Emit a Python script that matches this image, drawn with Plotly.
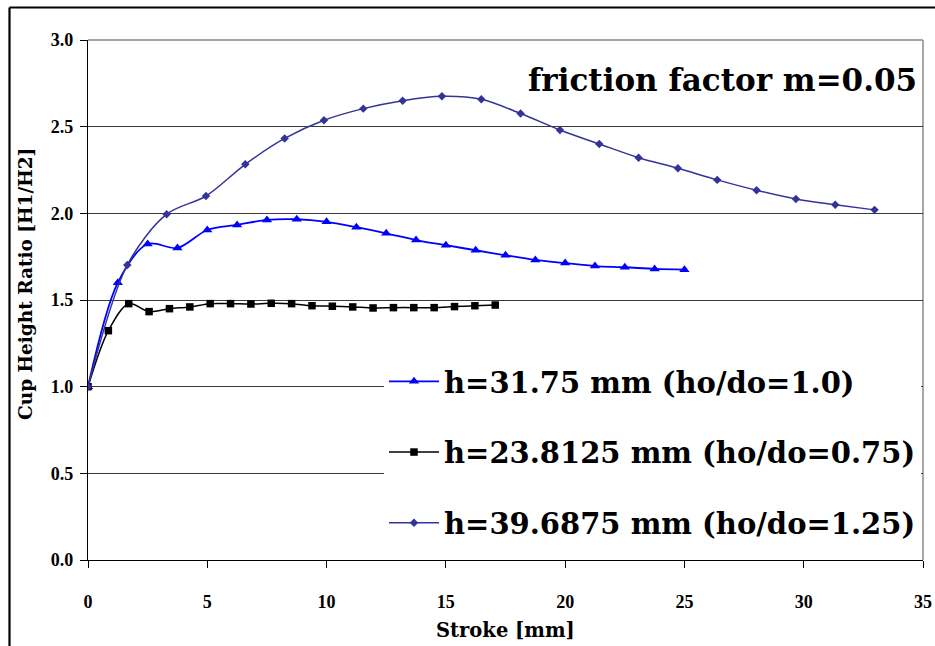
import plotly.graph_objects as go

# Stroke positions [mm] and cup height ratio H1/H2 for each initial height
stroke_h1 = [0.0, 1.25, 2.5, 3.75, 5.0, 6.25, 7.5, 8.75, 10.0, 11.25, 12.5,
             13.75, 15.0, 16.25, 17.5, 18.75, 20.0, 21.25, 22.5, 23.75, 25.0]
ratio_h1 = [1.00, 1.60, 1.823, 1.80, 1.904, 1.933, 1.962, 1.966, 1.951, 1.92, 1.885,
            1.846, 1.816, 1.787, 1.758, 1.731, 1.713, 1.696, 1.689, 1.679, 1.675]

stroke_h2 = [0.0, 0.854, 1.707, 2.561, 3.414, 4.268, 5.121, 5.975, 6.828, 7.682, 8.535,
             9.389, 10.242, 11.096, 11.949, 12.803, 13.656, 14.510, 15.363, 16.217, 17.07]
ratio_h2 = [1.00, 1.323, 1.479, 1.433, 1.45, 1.46, 1.479, 1.479, 1.477, 1.481, 1.479,
            1.467, 1.464, 1.46, 1.454, 1.456, 1.456, 1.456, 1.462, 1.467, 1.471]

stroke_h3 = [0.0, 1.648, 3.297, 4.945, 6.594, 8.242, 9.891, 11.539, 13.188, 14.836, 16.485,
             18.133, 19.782, 21.430, 23.079, 24.727, 26.376, 28.024, 29.673, 31.321, 32.97]
ratio_h3 = [1.00, 1.702, 1.995, 2.10, 2.283, 2.432, 2.537, 2.604, 2.65, 2.675, 2.658,
            2.576, 2.481, 2.40, 2.321, 2.26, 2.193, 2.133, 2.083, 2.05, 2.02]

names = ["h=31.75 mm (ho/do=1.0)", "h=23.8125 mm (ho/do=0.75)", "h=39.6875 mm (ho/do=1.25)"]

W, H = 935, 646
L, R, T, B = 88, 923, 40, 560  # plot area in pixels


def px(x):
    return (x - L) / (R - L)


def py(y):
    return (B - y) / (B - T)


serif = "DejaVu Serif"
times = "Liberation Serif"

fig = go.Figure()
fig.add_trace(go.Scatter(
    x=stroke_h1, y=ratio_h1, name=names[0], legendgroup="a",
    mode="lines+markers", line=dict(color="#0000FF", width=1.8, shape="spline", smoothing=0.9),
    marker=dict(symbol="triangle-up", size=9, color="#0000FF")))
fig.add_trace(go.Scatter(
    x=stroke_h2, y=ratio_h2, name=names[1], legendgroup="b",
    mode="lines+markers", line=dict(color="#000000", width=1.5, shape="spline", smoothing=0.9),
    marker=dict(symbol="square", size=7.5, color="#000000")))
fig.add_trace(go.Scatter(
    x=stroke_h3, y=ratio_h3, name=names[2], legendgroup="c",
    mode="lines+markers", line=dict(color="#333399", width=1.5, shape="spline", smoothing=0.9),
    marker=dict(symbol="diamond", size=6.5, color="#333399")))

axis_common = dict(
    showline=True, linecolor="#000000", linewidth=1.2, ticks="outside", ticklen=7,
    tickcolor="#000000", tickwidth=1, zeroline=False, automargin=False,
    tickfont=dict(family=times, size=18, color="#000000", weight="bold"),
)

fig.update_xaxes(range=[0, 35], dtick=5, tick0=0, showgrid=False,
                 ticklabelstandoff=18, **axis_common)
fig.update_yaxes(range=[0, 3], dtick=0.5, tick0=0, tickformat=".1f", showgrid=True,
                 gridcolor="#3a3a3a", gridwidth=1, ticklabelstandoff=3, **axis_common)

fig.update_layout(
    width=W, height=H,
    margin=dict(l=L, r=W - R, t=T, b=H - B, pad=0, autoexpand=False),
    paper_bgcolor="white", plot_bgcolor="white",
    showlegend=True,
    legend=dict(
        x=px(384), y=py(356), xanchor="left", yanchor="top",
        bgcolor="white", borderwidth=0, tracegroupgap=30, itemwidth=50,
        font=dict(family=serif, size=29, color="#000000", weight="bold"),
    ),
    annotations=[
        dict(text="friction factor m=0.05", x=px(919), y=py(80), xref="paper", yref="paper",
             xanchor="right", yanchor="middle", showarrow=False,
             font=dict(family=serif, size=31, color="#000000", weight="bold")),
        dict(text="Cup Height Ratio [H1/H2]", x=px(25), y=py(284), xref="paper", yref="paper",
             xanchor="center", yanchor="middle", textangle=-90, showarrow=False,
             font=dict(family=serif, size=18.5, color="#000000", weight="bold")),
        dict(text="Stroke [mm]", x=0.5, y=py(630), xref="paper", yref="paper",
             xanchor="center", yanchor="middle", showarrow=False,
             font=dict(family=serif, size=19.5, color="#000000", weight="bold")),
    ],
    shapes=[
        # plot-area border (top and right)
        dict(type="line", xref="paper", yref="paper", x0=0, x1=1, y0=1, y1=1,
             line=dict(color="#8a8a8a", width=1.5), layer="between"),
        dict(type="line", xref="paper", yref="paper", x0=1, x1=1, y0=0, y1=1,
             line=dict(color="#8a8a8a", width=1.5), layer="between"),
        # outer chart frame
        dict(type="line", xref="paper", yref="paper", x0=px(9.5), x1=px(945), y0=py(7.5), y1=py(7.5),
             line=dict(color="#000000", width=2.2)),
        dict(type="line", xref="paper", yref="paper", x0=px(9.5), x1=px(9.5), y0=py(7.5), y1=py(660),
             line=dict(color="#000000", width=2.2)),
    ],
)

fig.write_html("out.html")
